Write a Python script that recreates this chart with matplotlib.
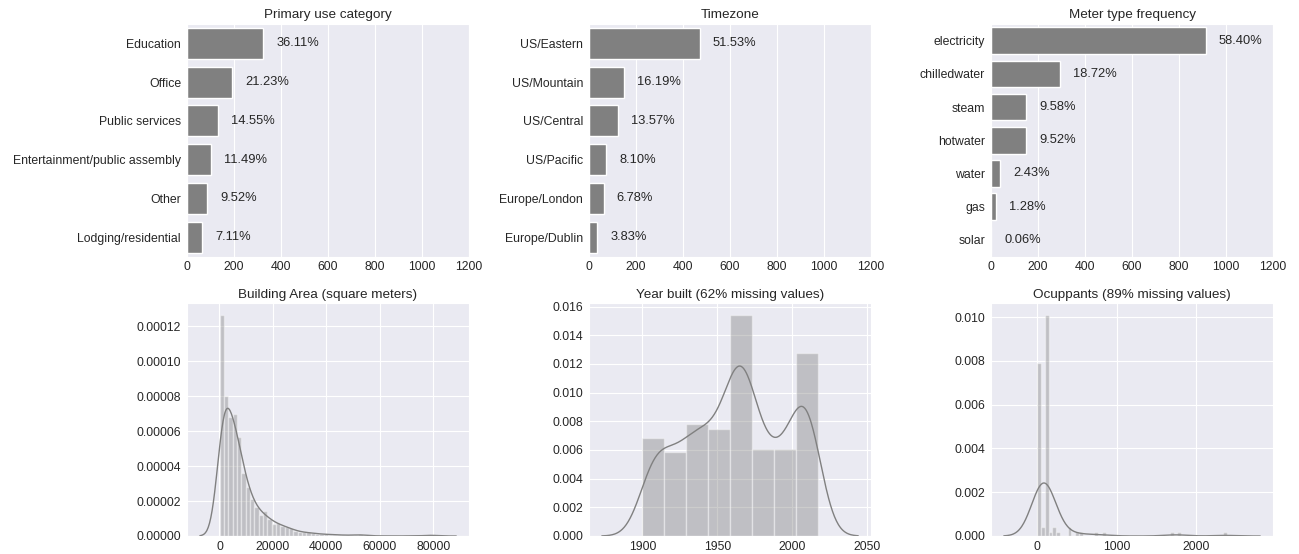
import math
import numpy as np
import matplotlib
matplotlib.use("Agg")
import matplotlib.pyplot as plt
import seaborn as sns

# ---- category frequencies (percent of total) ----
primary_use = ["Education", "Office", "Public services",
               "Entertainment/public assembly", "Other", "Lodging/residential"]
primary_use_pct = [36.11, 21.23, 14.55, 11.49, 9.52, 7.11]
primary_use_total = 900

timezones = ["US/Eastern", "US/Mountain", "US/Central", "US/Pacific",
             "Europe/London", "Europe/Dublin"]
timezone_pct = [51.53, 16.19, 13.57, 8.10, 6.78, 3.83]
timezone_total = 915

meters = ["electricity", "chilledwater", "steam", "hotwater", "water", "gas", "solar"]
meter_pct = [58.40, 18.72, 9.58, 9.52, 2.43, 1.28, 0.06]
meter_total = 1565

# ---- numeric distributions (histogram densities) ----
area_range = (26, 81290)          # 50 equal bins
area_density = [
    1.267e-4, 8.03e-5, 6.81e-5, 7.00e-5, 5.67e-5, 3.58e-5, 2.78e-5, 2.13e-5,
    1.64e-5, 1.18e-5, 1.43e-5, 9.5e-6, 7.0e-6, 7.6e-6, 5.9e-6, 5.0e-6,
    4.4e-6, 3.0e-6, 2.3e-6, 2.0e-6, 2.0e-6, 1.8e-6, 1.1e-6, 1.1e-6,
    1.0e-6, 8e-7, 8e-7, 6e-7, 5e-7, 4e-7, 3e-7, 6e-7,
    1.2e-6, 4e-7, 2e-7, 0, 0, 2e-7, 0, 0,
    0, 0, 0, 2e-7, 0, 0, 0, 4e-7, 6e-7, 6e-7,
]

year_range = (1900, 2017)         # 8 equal bins
year_density = [0.00685, 0.00588, 0.00783, 0.00746, 0.01544, 0.00607, 0.00607, 0.01274]

occupant_range = (5, 2380)        # 50 equal bins
occupant_counts = [
    39, 2, 50, 1, 2, 1, 0, 0, 2, 0,
    1, 1, 0, 0, 0, 1, 0, 1, 0, 0,
    0, 0, 0, 0, 0, 0, 0, 0, 0, 0,
    0, 0, 0, 0, 0, 1, 0, 1, 0, 0,
    0, 0, 0, 0, 0, 0, 0, 0, 0, 1,
]

sns.set_style("darkgrid")
plt.rcParams["font.family"] = ["Liberation Sans", "DejaVu Sans"]
plt.rcParams["text.color"] = ".15"
plt.rcParams["xtick.color"] = ".15"
plt.rcParams["ytick.color"] = ".15"

TICK = 8.8
TITLE = 9.7
LABEL = 9.3


def norm_cdf(z):
    return 0.5 * (1.0 + np.vectorize(math.erf)(z / math.sqrt(2.0)))


def smoothed(edges, heights, bw, cut=3, n=400):
    xs = np.linspace(edges[0] - cut * bw, edges[-1] + cut * bw, n)
    ys = np.zeros_like(xs)
    for a, b, h in zip(edges[:-1], edges[1:], heights):
        if h:
            ys += h * (norm_cdf((xs - a) / bw) - norm_cdf((xs - b) / bw))
    return xs, ys


def style_ticks(ax):
    ax.tick_params(axis="x", labelsize=TICK, length=0, pad=3.4)
    ax.tick_params(axis="y", labelsize=TICK, length=0, pad=4.3)


def freq_panel(ax, cats, pct, total, title):
    counts = np.array(pct) / 100.0 * total
    pos = np.arange(len(cats))
    ax.barh(pos, counts, height=0.8, color="gray", edgecolor="white", linewidth=1)
    for p, c, v in zip(pos, counts, pct):
        ax.text(c + 55, p, f"{v:.2f}%", va="center", ha="left", fontsize=LABEL)
    ax.set_yticks(pos)
    ax.set_yticklabels(cats)
    ax.set_ylim(len(cats) - 0.5, -0.5)
    ax.set_xlim(0, 1200)
    ax.set_xticks(np.arange(0, 1201, 200))
    ax.yaxis.grid(False)
    ax.set_title(title, fontsize=TITLE, pad=4)
    style_ticks(ax)


def dist_panel(ax, rng, heights, bw, title):
    edges = np.linspace(rng[0], rng[1], len(heights) + 1)
    ax.bar(edges[:-1], heights, width=np.diff(edges), align="edge",
           color="gray", alpha=0.4, edgecolor="white", linewidth=1)
    xs, ys = smoothed(edges, heights, bw)
    ax.plot(xs, ys, color="gray", lw=1)
    ax.set_title(title, fontsize=TITLE, pad=4)
    style_ticks(ax)


fig, axes = plt.subplots(2, 3, figsize=(12.99, 5.54), dpi=100)
fig.subplots_adjust(left=0.144, right=0.980, top=0.9567, bottom=0.0325,
                    wspace=0.4255, hspace=0.202)

freq_panel(axes[0, 0], primary_use, primary_use_pct, primary_use_total, "Primary use category")
freq_panel(axes[0, 1], timezones, timezone_pct, timezone_total, "Timezone")
freq_panel(axes[0, 2], meters, meter_pct, meter_total, "Meter type frequency")

dist_panel(axes[1, 0], area_range, area_density, 2450, "Building Area (square meters)")
dist_panel(axes[1, 1], year_range, year_density, 9.0, "Year built (62% missing values)")

occ_w = (occupant_range[1] - occupant_range[0]) / len(occupant_counts)
occ_density = np.array(occupant_counts) / (sum(occupant_counts) * occ_w)
dist_panel(axes[1, 2], occupant_range, occ_density, 140, "Ocuppants (89% missing values)")

fig.savefig("out.png", dpi=100)
